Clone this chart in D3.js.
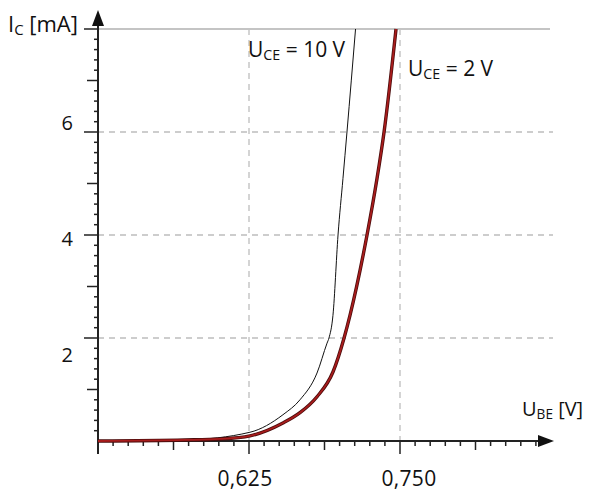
<!DOCTYPE html>
<html><head><meta charset="utf-8">
<script src="https://cdn.jsdelivr.net/npm/d3@7"></script>
<style>
html,body{margin:0;padding:0;background:#fff;}
svg{display:block;}
text{font-family:"Open Sans","Noto Sans",sans-serif;fill:#111;}
</style></head>
<body>
<svg id="chart" width="589" height="491"></svg>
<script>
// ---- data ----
const ubeRed  = [0.5, 0.572, 0.601, 0.6258, 0.6531, 0.6672, 0.6813, 0.6945, 0.7037, 0.7086, 0.7227, 0.7310, 0.7368, 0.7467];
const icRed   = [0,   0.02,  0.04,  0.10,   0.35,   0.55,   0.86,   1.34,   2.0,    2.44,   4.0,    5.1,    6.0,    8.0];
const ubeBlack = [0.5, 0.572, 0.6258, 0.6531, 0.6672, 0.6813, 0.6896, 0.6912, 0.6945, 0.6987, 0.7028, 0.7061, 0.7132];
const icBlack  = [0,   0.02,  0.17,   0.51,   0.80,   1.32,   1.90,   2.0,    2.44,   4.0,    5.1,    6.0,    8.0];
const xTickValues = [0.625, 0.750];
const xTickLabels = ["0,625", "0,750"];
const yTickValues = [2, 4, 6];
const yTickLabels = ["2", "4", "6"];

// ---- layout ----
const svg = d3.select("#chart");
const x = d3.scaleLinear().domain([0.5, 0.75]).range([98, 400]);
const y = d3.scaleLinear().domain([0, 8]).range([441, 29]);
const x0 = x(0.5), y0 = y(0);

const g = svg.append("g");
// grid
g.selectAll("line.hg").data(yTickValues).join("line")
  .attr("x1", x0).attr("x2", 553).attr("y1", d => y(d)).attr("y2", d => y(d))
  .attr("stroke", "#bdbdbd").attr("stroke-width", 1.3).attr("stroke-dasharray", "6,5");
g.selectAll("line.vg").data(xTickValues).join("line")
  .attr("x1", d => x(d)).attr("x2", d => x(d)).attr("y1", y(8)).attr("y2", y0)
  .attr("stroke", "#bdbdbd").attr("stroke-width", 1.3).attr("stroke-dasharray", "6,5");
g.append("line").attr("x1", x0).attr("x2", 550).attr("y1", y(8)).attr("y2", y(8))
  .attr("stroke", "#c4c4c4").attr("stroke-width", 2);

// y ticks
const yTicksAll = d3.range(1, 41).map(i => i * 0.2);
g.selectAll("line.yt").data(yTicksAll).join("line")
  .attr("x1", (d, i) => {
    const r = i + 1;
    if (r % 10 === 0) return x0 - 14;
    if (r % 5 === 0) return x0 - 11;
    return x0 - 4;
  })
  .attr("x2", x0).attr("y1", d => y(d)).attr("y2", d => y(d))
  .attr("stroke", "#222").attr("stroke-width", 1.5);

// x ticks
const xTicksAll = d3.range(0, 30).map(i => 0.5 + i * 0.0125);
g.selectAll("line.xt").data(xTicksAll).join("line")
  .attr("x1", d => x(d)).attr("x2", d => x(d)).attr("y1", y0)
  .attr("y2", (d, i) => {
    if (i === 0 || i === 10 || i === 20) return y0 + 13;
    if (i % 5 === 0) return y0 + 9;
    return y0 + 5;
  })
  .attr("stroke", "#222").attr("stroke-width", 1.5);

// axes
g.append("line").attr("x1", x0).attr("x2", 540).attr("y1", y0).attr("y2", y0)
  .attr("stroke", "#222").attr("stroke-width", 2);
g.append("line").attr("x1", x0).attr("x2", x0).attr("y1", y0 + 13).attr("y2", 22)
  .attr("stroke", "#222").attr("stroke-width", 2);
g.append("path").attr("d", `M${x0},10 L${x0 - 6},26 L${x0 + 6},26 Z`).attr("fill", "#111");
g.append("path").attr("d", `M554,${y0} L538,${y0 - 6} L538,${y0 + 6} Z`).attr("fill", "#111");

// curves
const line = d3.line().x(d => x(d[0])).y(d => y(d[1])).curve(d3.curveMonotoneX);
const redPts = ubeRed.map((v, i) => [v, icRed[i]]);
const blackPts = ubeBlack.map((v, i) => [v, icBlack[i]]);
g.append("path").datum(blackPts).attr("d", line).attr("fill", "none")
  .attr("stroke", "#111").attr("stroke-width", 1);
g.append("path").datum(redPts).attr("d", line).attr("fill", "none")
  .attr("stroke", "#4a0c0c").attr("stroke-width", 3.4);
g.append("path").datum(redPts).attr("d", line).attr("fill", "none")
  .attr("stroke", "#a81c1c").attr("stroke-width", 1.8);

// tick labels
const yDy = [24, 11, -2];
g.selectAll("text.yl").data(yTickValues).join("text")
  .attr("x", 73).attr("y", (d, i) => y(d) + yDy[i])
  .attr("text-anchor", "end").attr("font-size", 20).text((d, i) => yTickLabels[i]);
const xDx = [-4, 9];
g.selectAll("text.xl").data(xTickValues).join("text")
  .attr("x", (d, i) => x(d) + xDx[i]).attr("y", 486)
  .attr("text-anchor", "middle").attr("font-size", 21).attr("letter-spacing", 0.3)
  .text((d, i) => xTickLabels[i]);

// titles with subscripts
function sub(xp, yp, main, s, rest, fs) {
  const tx = g.append("text").attr("x", xp).attr("y", yp).attr("font-size", fs);
  tx.append("tspan").text(main);
  tx.append("tspan").attr("font-size", fs * 0.68).attr("dy", 3).text(s);
  tx.append("tspan").attr("dy", -3).text(rest);
  return tx;
}
sub(8, 32, "I", "C", " [mA]", 22);
sub(522, 416, "U", "BE", " [V]", 20);
sub(248, 57, "U", "CE", " = 10 V", 21);
sub(408, 76, "U", "CE", " = 2 V", 21);
</script>
</body></html>
